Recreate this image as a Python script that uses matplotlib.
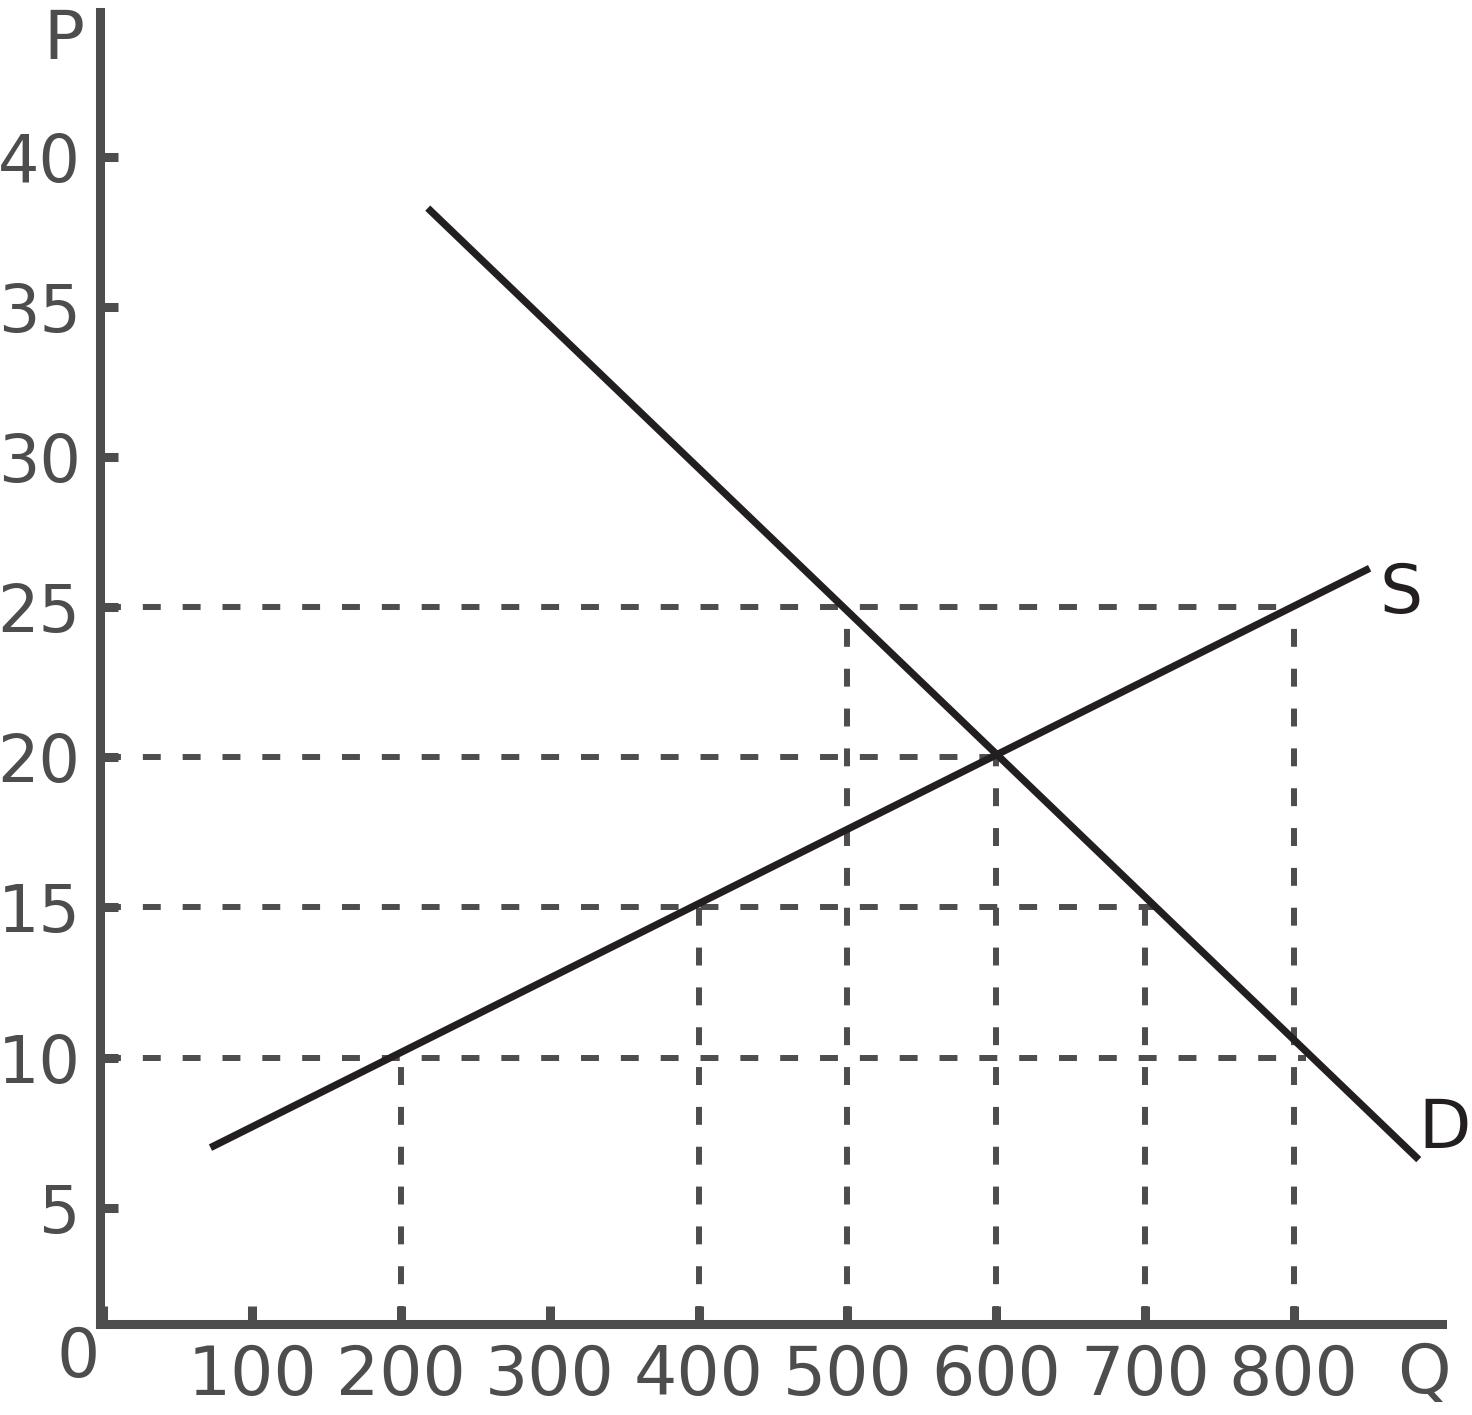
import matplotlib
matplotlib.use("Agg")
import matplotlib.pyplot as plt

# tick values
q_ticks = [0, 100, 200, 300, 400, 500, 600, 700, 800]
q_labels = ["", "100", "200", "300", "400", "500", "600", "700", "800"]
p_ticks = [5, 10, 15, 20, 25, 30, 35, 40]

# supply and demand end points (Q, P)
supply_q = [72, 851]
supply_p = [7.0, 26.3]
demand_q = [218, 884]
demand_p = [38.3, 6.6]

# dashed guides: horizontal (price, quantity reached), vertical (quantity, price reached)
h_price = [25, 20, 15, 10]
h_qty = [800, 600, 715, 808]
v_qty = [200, 400, 500, 600, 700, 800]
v_price = [10, 15, 25, 20, 15, 25]

grey = "#4d4d4d"
black = "#231f20"

W, H = 1472, 1415
fig = plt.figure(figsize=(W / 100, H / 100), dpi=100)

# axes box in pixels (spine centres)
left_px, right_px, top_px, bottom_px = 99.5, 1441.5, 11.5, 1323.5
ax = fig.add_axes([left_px / W, 1 - bottom_px / H,
                   (right_px - left_px) / W, (bottom_px - top_px) / H])

ymin = 1.14
ax.set_xlim(-2.6, 899.3)
ax.set_ylim(ymin, 44.85)

for side in ["top", "right"]:
    ax.spines[side].set_visible(False)
for side in ["left", "bottom"]:
    ax.spines[side].set_linewidth(6.5)
    ax.spines[side].set_color(grey)
    ax.spines[side].set_capstyle("projecting")
    ax.spines[side].set_zorder(5)

ax.set_xticks(q_ticks)
ax.set_xticklabels(q_labels)
ax.set_yticks(p_ticks)
ax.set_yticklabels([str(p) for p in p_ticks])
ax.tick_params(direction="in", length=13, width=6.5, color=grey,
               labelsize=49, labelcolor=grey)
ax.tick_params(axis="x", pad=14.4)
ax.tick_params(axis="y", pad=13.5, labelsize=47)

dash = (0, (3, 3.67))
for p, q in zip(h_price, h_qty):
    ax.plot([0, q], [p, p], color=grey, lw=4.3, linestyle=dash,
            dash_capstyle="butt", zorder=2)
for q, p in zip(v_qty, v_price):
    ax.plot([q, q], [ymin, p], color=grey, lw=4.3, linestyle=dash,
            dash_capstyle="butt", zorder=2)

ax.plot(supply_q, supply_p, color=black, lw=5.2, solid_capstyle="butt", zorder=3)
ax.plot(demand_q, demand_p, color=black, lw=5.2, solid_capstyle="butt", zorder=3)

ax.text(872, 24.8, "S", fontsize=49, color=black, ha="center", va="baseline")
ax.text(901.5, 6.98, "D", fontsize=49, color=black, ha="center", va="baseline")
ax.text(-26.3, 43.27, "P", fontsize=49, color=grey, ha="center", va="baseline")
ax.text(-16.7, -0.64, "0", fontsize=49, color=grey, ha="center", va="baseline")
ax.text(887.2, -1.18, "Q", fontsize=49, color=grey, ha="center", va="baseline")

fig.savefig("out.png", dpi=100)
